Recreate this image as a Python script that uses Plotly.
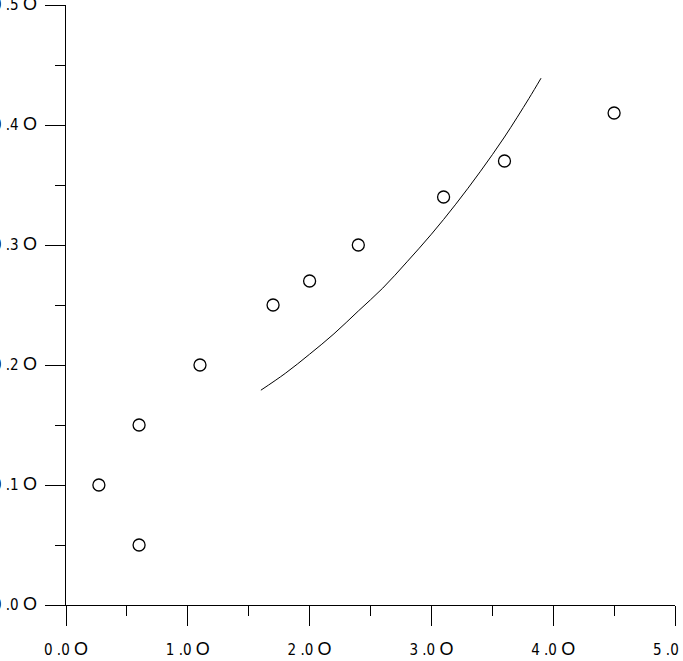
import plotly.graph_objects as go

# Scatter observations
obs_x = [0.27, 0.6, 0.6, 1.1, 1.7, 2.0, 2.4, 3.1, 3.6, 4.5]
obs_y = [0.10, 0.15, 0.05, 0.20, 0.25, 0.27, 0.30, 0.34, 0.37, 0.41]

# Fitted curve
fit_x = [1.6, 1.8, 2.0, 2.2, 2.4, 2.6, 2.8, 3.0, 3.2, 3.4, 3.6, 3.8, 3.9]
fit_y = [0.179, 0.193, 0.209, 0.226, 0.245, 0.264, 0.286, 0.309, 0.334, 0.361, 0.390, 0.422, 0.439]

x_tickvals = [0, 1, 2, 3, 4, 5]
x_ticklabels = ["0 .0", "1 .0", "2 .0", "3 .0", "4 .0", "5 .0"]
y_tickvals = [0.0, 0.1, 0.2, 0.3, 0.4, 0.5]
y_ticklabels = ["0 .0", "0 .1", "0 .2", "0 .3", "0 .4", "0 .5"]

BIG_O = " <span style='font-family:Liberation Sans, Arial;font-size:18px'>O</span>"

fig = go.Figure()
fig.add_trace(go.Scatter(
    x=fit_x, y=fit_y, mode="lines", line=dict(color="black", width=1, shape="spline"),
    showlegend=False, hoverinfo="skip"))
fig.add_trace(go.Scatter(
    x=obs_x, y=obs_y, mode="markers",
    marker=dict(symbol="circle-open", size=12, color="black", line=dict(width=1.3, color="black")),
    showlegend=False))

tickfont = dict(family="Liberation Sans Narrow, DejaVu Sans Condensed, Arial", size=15, color="black")

fig.update_xaxes(
    range=[0, 5], showgrid=False, zeroline=False, showline=True, linecolor="black", linewidth=1,
    ticks="outside", ticklen=20, tickwidth=1, tickcolor="black",
    tickvals=x_tickvals, ticktext=[t + BIG_O for t in x_ticklabels],
    tickfont=tickfont, ticklabelstandoff=11, automargin=False, ticklabeloverflow="allow",
    minor=dict(dtick=0.5, ticks="outside", ticklen=10, tickwidth=1, tickcolor="black", showgrid=False))
fig.update_yaxes(
    range=[0, 0.5], showgrid=False, zeroline=False, showline=True, linecolor="black", linewidth=1,
    ticks="outside", ticklen=20, tickwidth=1, tickcolor="black",
    tickvals=y_tickvals, ticktext=[t + BIG_O for t in y_ticklabels],
    tickfont=tickfont, ticklabelstandoff=5, automargin=False, ticklabeloverflow="allow",
    minor=dict(dtick=0.05, ticks="outside", ticklen=10, tickwidth=1, tickcolor="black", showgrid=False))

fig.update_layout(
    width=683, height=661, autosize=False,
    margin=dict(l=66, r=8, t=5, b=56),
    plot_bgcolor="white", paper_bgcolor="white",
)

fig.write_html("out.html", config={"displayModeBar": False},
               post_script="document.body.style.margin='0';document.body.style.overflow='hidden';")
